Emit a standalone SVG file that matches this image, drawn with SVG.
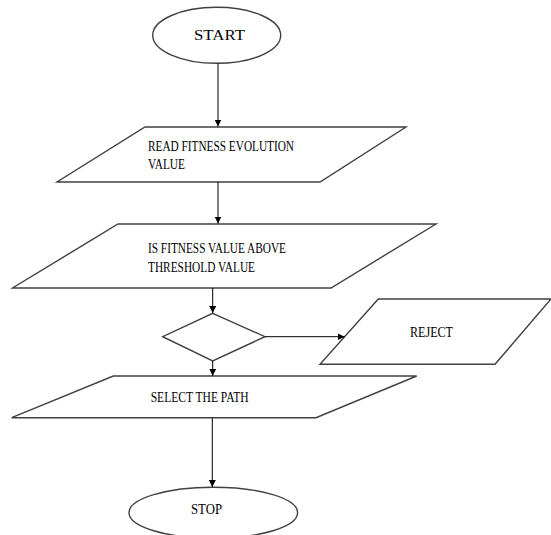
<svg xmlns="http://www.w3.org/2000/svg" width="551" height="535" viewBox="0 0 551 535">
  <style>
    .shape { fill: #ffffff; stroke: #404040; stroke-width: 1.4; }
    .edge { fill: none; stroke: #000000; stroke-width: 1; }
    .lbl { font-family: "Liberation Serif", "Times New Roman", serif; font-size: 14.5px; fill: #000000; }
  </style>
  <defs>
    <marker id="arrow" markerUnits="userSpaceOnUse" markerWidth="8" markerHeight="8" refX="7" refY="3.5" orient="auto">
      <path d="M0,0 L7,3.5 L0,7 z" fill="#000000"/>
    </marker>
  </defs>
  <rect x="0" y="0" width="551" height="535" fill="#ffffff"/>

  <g id="start">
    <ellipse class="shape" cx="216.7" cy="35.3" rx="64" ry="28"/>
    <text class="lbl" x="194" y="40" textLength="51" lengthAdjust="spacingAndGlyphs">START</text>
  </g>

  <g id="read">
    <polygon class="shape" points="145,127 406,127 320,182 57,182"/>
    <text class="lbl" x="148" y="150.5" textLength="146" lengthAdjust="spacingAndGlyphs">READ FITNESS EVOLUTION</text>
    <text class="lbl" x="148" y="168.5" textLength="37" lengthAdjust="spacingAndGlyphs">VALUE</text>
  </g>

  <g id="check">
    <polygon class="shape" points="118,224 436,224 331,288 12.5,288"/>
    <text class="lbl" x="148" y="253" textLength="138" lengthAdjust="spacingAndGlyphs">IS FITNESS VALUE ABOVE</text>
    <text class="lbl" x="148" y="271.5" textLength="107" lengthAdjust="spacingAndGlyphs">THRESHOLD VALUE</text>
  </g>

  <g id="decision">
    <polygon class="shape" points="212.7,313.3 265,336.7 212.7,361 162.7,336.7"/>
  </g>

  <g id="reject">
    <polygon class="shape" points="378.3,299 551,299 495,364.3 320,364.3"/>
    <text class="lbl" x="410" y="336.5" textLength="43" lengthAdjust="spacingAndGlyphs">REJECT</text>
  </g>

  <g id="select">
    <polygon class="shape" points="113.3,376 416.7,376 316,417.7 11.7,417.7"/>
    <text class="lbl" x="150.7" y="401.5" textLength="98" lengthAdjust="spacingAndGlyphs">SELECT THE PATH</text>
  </g>

  <g id="stop">
    <ellipse class="shape" cx="213.3" cy="512.7" rx="84.3" ry="25.5"/>
    <text class="lbl" x="191" y="513.5" textLength="31" lengthAdjust="spacingAndGlyphs">STOP</text>
  </g>

  <g id="connectors">
    <line class="edge" x1="218" y1="63.5" x2="218" y2="126.5" marker-end="url(#arrow)"/>
    <line class="edge" x1="218" y1="182" x2="218" y2="223.5" marker-end="url(#arrow)"/>
    <line class="edge" x1="212.7" y1="288" x2="212.7" y2="313" marker-end="url(#arrow)"/>
    <line class="edge" x1="265" y1="336.7" x2="344.5" y2="336.7" marker-end="url(#arrow)"/>
    <line class="edge" x1="212.7" y1="361" x2="212.7" y2="375.8" marker-end="url(#arrow)"/>
    <line class="edge" x1="212.3" y1="418" x2="212.3" y2="487" marker-end="url(#arrow)"/>
  </g>
</svg>
